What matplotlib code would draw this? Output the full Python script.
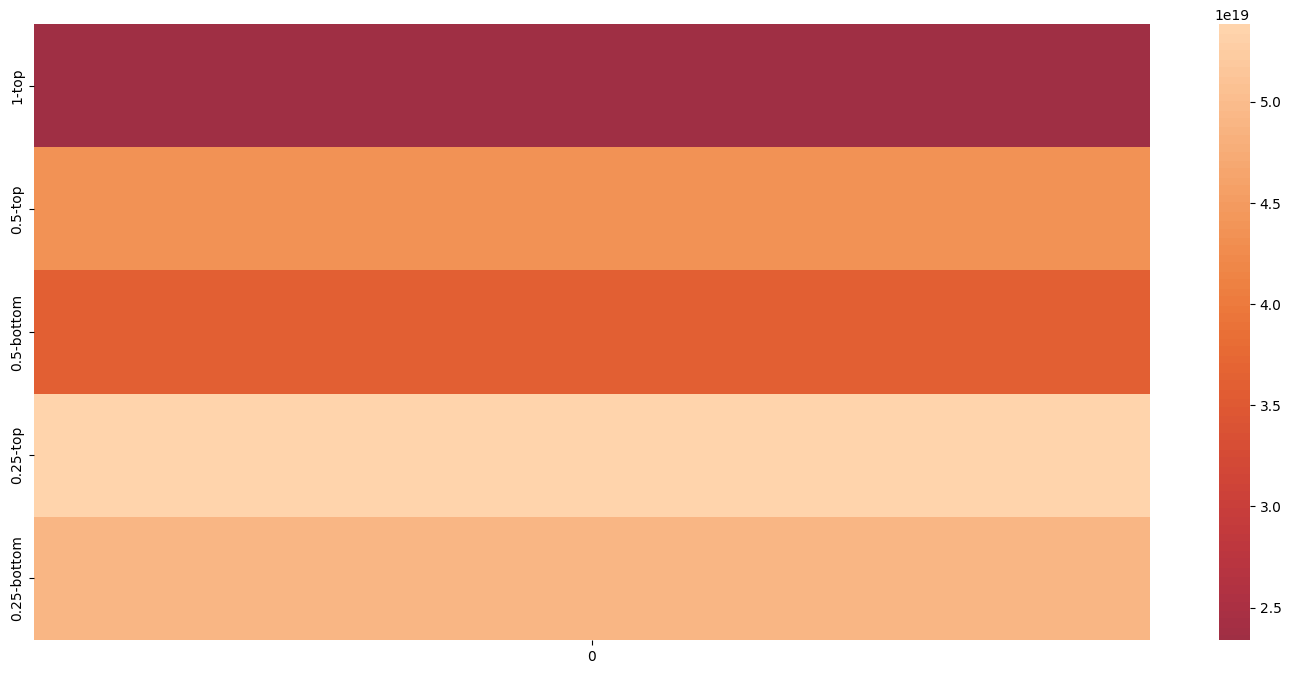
import matplotlib
matplotlib.use("Agg")
import matplotlib.pyplot as plt
import seaborn as sns
import pandas as pd
import numpy as np

rows = ["1-top", "0.5-top", "0.5-bottom", "0.25-top", "0.25-bottom"]
cols = ["0"]
values = [2.34e19, 4.33e19, 3.62e19, 5.385e19, 4.92e19]

df = pd.DataFrame({cols[0]: values}, index=rows)

fig = plt.figure(figsize=(12.91, 6.74), dpi=100)
ax = fig.add_axes([34/1291, 34/674, (1150-34)/1291, (640-24)/674])
cax = fig.add_axes([1219/1291, 34/674, 31/1291, (640-24)/674])
sns.heatmap(df, ax=ax, cbar_ax=cax, cmap="icefire", center=0)
fig.savefig("out.png", dpi=100)
